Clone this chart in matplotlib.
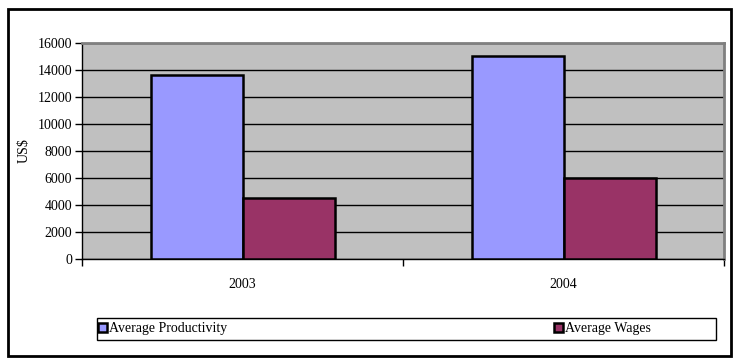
import matplotlib.pyplot as plt
import numpy as np
from matplotlib.patches import Rectangle

# Average productivity and wages per year
years = ['2003', '2004']
productivity = [13600, 15000]
wages = [4550, 6000]

plt.rcParams['font.family'] = ['Liberation Serif', 'DejaVu Serif']
plt.rcParams['font.size'] = 10

fig = plt.figure(figsize=(7.37, 3.61), dpi=100)
ax = fig.add_axes([0.1113, 0.2825, 0.8711, 0.5984])

# Outer frame round the whole chart
fig.patches.append(Rectangle((0.011, 0.014), 0.981, 0.962, transform=fig.transFigure,
                             fill=False, edgecolor='black', linewidth=2.0))

x = np.arange(len(years))
width = 0.2866
ax.set_facecolor('#C0C0C0')
ax.bar(x - width / 2, productivity, width, color='#9999FF', edgecolor='black',
       linewidth=1.8, label='Average Productivity', zorder=3)
ax.bar(x + width / 2, wages, width, color='#993366', edgecolor='black',
       linewidth=1.8, label='Average Wages', zorder=3)

ax.set_xlim(-0.5, len(years) - 0.5)
ax.set_ylim(0, 16000)
ax.set_yticks(np.arange(0, 16001, 2000))
ax.yaxis.grid(True, color='black', linewidth=1.0, zorder=1)
ax.set_axisbelow(True)

# Category labels centred, ticks on the category boundaries
ax.set_xticks(x)
ax.set_xticklabels(years)
ax.tick_params(axis='x', which='major', length=0, pad=14)
ax.set_xticks(np.arange(-0.5, len(years)), minor=True)
ax.tick_params(axis='x', which='minor', length=5, width=1, direction='out')
ax.tick_params(axis='y', length=5, width=1, direction='out', pad=2)

ax.set_ylabel('US$', labelpad=5)

for side in ['left', 'bottom']:
    ax.spines[side].set_color('black')
    ax.spines[side].set_linewidth(1.0)
for side in ['top', 'right']:
    ax.spines[side].set_color('#808080')
    ax.spines[side].set_linewidth(2.0)

# Legend box below the plot
fig.patches.append(Rectangle((0.1316, 0.0582), 0.84, 0.061, transform=fig.transFigure,
                             fill=False, edgecolor='black', linewidth=1.0))
leg = fig.legend(loc='center left', bbox_to_anchor=(0.1316, 0.0887), ncol=2,
                 frameon=False, handlelength=0.65, handleheight=0.65,
                 handletextpad=0.15, columnspacing=23.5, borderaxespad=0,
                 borderpad=0.1)

fig.savefig('out.png', dpi=100)
